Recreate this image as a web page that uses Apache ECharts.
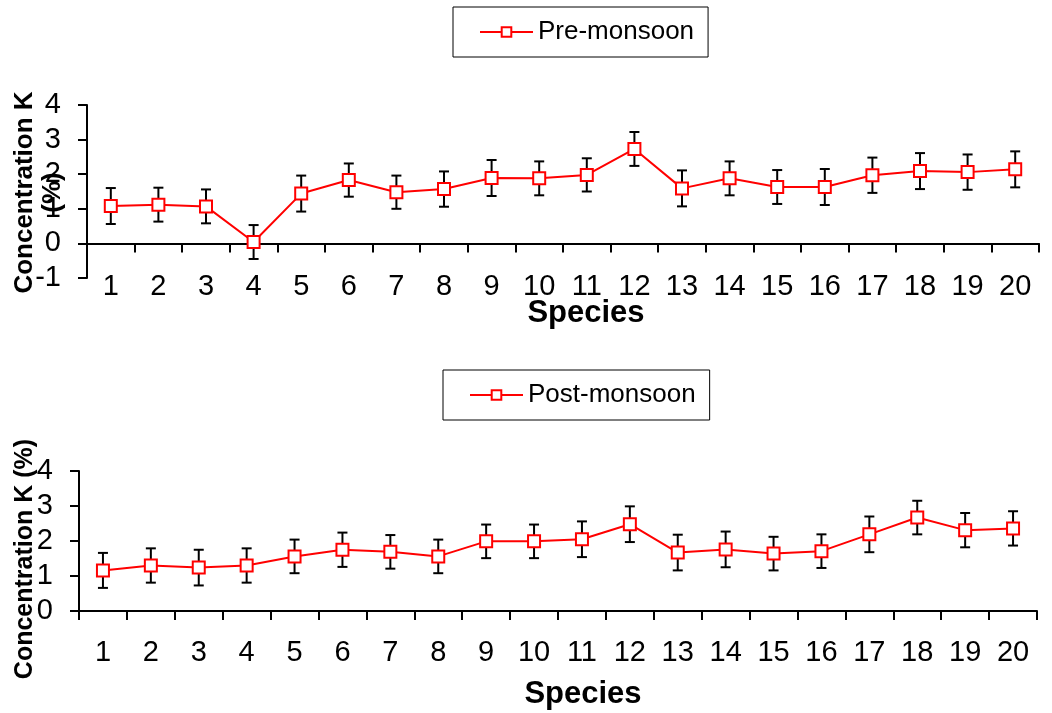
<!DOCTYPE html>
<html>
<head>
<meta charset="utf-8">
<script src="https://cdn.jsdelivr.net/npm/echarts@6/dist/echarts.min.js"></script>
<style>
    html, body { margin: 0; padding: 0; background: #fff; }
    #main { width: 1052px; height: 713px; }
</style>
</head>
<body>
<div id="main"></div>
<script>
var species = ['1','2','3','4','5','6','7','8','9','10','11','12','13','14','15','16','17','18','19','20'];

// Pre-monsoon: mean K (%) and error half-width
var preVals = [1.08, 1.12, 1.07, 0.04, 1.44, 1.83, 1.48, 1.57, 1.89, 1.88, 1.98, 2.73, 1.59, 1.88, 1.63, 1.63, 1.97, 2.09, 2.06, 2.14];
var preErr  = [0.52, 0.49, 0.49, 0.49, 0.52, 0.48, 0.48, 0.51, 0.52, 0.49, 0.48, 0.49, 0.52, 0.49, 0.49, 0.52, 0.51, 0.52, 0.51, 0.52];

// Post-monsoon
var postVals = [1.16, 1.30, 1.24, 1.30, 1.56, 1.75, 1.69, 1.56, 1.99, 1.99, 2.05, 2.48, 1.67, 1.76, 1.64, 1.71, 2.19, 2.67, 2.31, 2.36];
var postErr  = [0.50, 0.49, 0.51, 0.49, 0.48, 0.49, 0.48, 0.48, 0.48, 0.48, 0.51, 0.51, 0.51, 0.51, 0.48, 0.48, 0.51, 0.48, 0.49, 0.49];

var FONT = 'Liberation Sans';

/* error bar data: [index, low, high] */
function errData(vals, errs)
{
    var out = [];
    for (var i = 0; i < vals.length; i++) {
        out.push([i, vals[i] - errs[i], vals[i] + errs[i]]);
    }
    return out;
}

function renderErr(params, api)
{
    var x = api.value(0);
    var top = api.coord([x, api.value(2)]);
    var bot = api.coord([x, api.value(1)]);
    var w = 5;
    var st = { stroke: '#000', lineWidth: 2 };
    return {
        type: 'group',
        children: [
            { type: 'line', shape: { x1: top[0], y1: top[1], x2: bot[0], y2: bot[1] }, style: st },
            { type: 'line', shape: { x1: top[0] - w, y1: top[1], x2: top[0] + w, y2: top[1] }, style: st },
            { type: 'line', shape: { x1: bot[0] - w, y1: bot[1], x2: bot[0] + w, y2: bot[1] }, style: st }
        ]
    };
}

function xAxisOpt(gridIdx, gap, margin, pad)
{
    return {
        type: 'category',
        gridIndex: gridIdx,
        data: species,
        boundaryGap: true,
        name: 'Species',
        nameLocation: 'middle',
        nameGap: gap,
        nameMoveOverlap: false,
        nameTextStyle: { fontFamily: FONT, fontSize: 31, fontWeight: 'bold', color: '#000', padding: pad },
        axisLine: { show: true, onZero: true, lineStyle: { color: '#000', width: 2 } },
        axisTick: { show: true, length: 9, alignWithLabel: false, lineStyle: { color: '#000', width: 2 } },
        axisLabel: { margin: margin, fontFamily: FONT, fontSize: 29, color: '#000', interval: 0 },
        splitLine: { show: false }
    };
}

function yAxisOpt(gridIdx, min, name, size, gap, pad)
{
    return {
        type: 'value',
        gridIndex: gridIdx,
        min: min,
        max: 4,
        interval: 1,
        name: name,
        nameLocation: 'middle',
        nameRotate: 90,
        nameGap: gap,
        nameMoveOverlap: false,
        nameTextStyle: { fontFamily: FONT, fontSize: size, fontWeight: 'bold', color: '#000', lineHeight: 28, padding: pad },
        axisLine: { show: true, lineStyle: { color: '#000', width: 2 } },
        axisTick: { show: true, length: 9, lineStyle: { color: '#000', width: 2 } },
        axisLabel: { margin: 26, fontFamily: FONT, fontSize: 29, color: '#000' },
        splitLine: { show: false }
    };
}

function legendOpt(name, left, top)
{
    return {
        data: [name],
        left: left,
        top: top,
        orient: 'horizontal',
        backgroundColor: '#fff',
        borderColor: '#000',
        borderWidth: 1,
        padding: [12, 14, 12, 26],
        itemWidth: 53,
        itemHeight: 12,
        textStyle: { fontFamily: FONT, fontSize: 26, color: '#000', lineHeight: 26 }
    };
}

function lineSeries(name, vals, idx)
{
    return {
        name: name,
        type: 'line',
        xAxisIndex: idx,
        yAxisIndex: idx,
        data: vals,
        symbol: 'emptyRect',
        symbolSize: 12,
        color: '#ff0000',
        lineStyle: { color: '#ff0000', width: 2 },
        itemStyle: { color: '#ff0000', borderColor: '#ff0000', borderWidth: 2 },
        z: 3
    };
}

var myChart = echarts.init(document.getElementById('main'));
myChart.setOption({
    backgroundColor: '#fff',
    animation: false,
    legend: [
        legendOpt('Pre-monsoon', 453, 7),
        legendOpt('Post-monsoon', 443, 370)
    ],
    grid: [
        { left: 87, top: 105, width: 952, height: 173, outerBoundsMode: 'none', containLabel: false },
        { left: 79, top: 471, width: 958, height: 140, outerBoundsMode: 'none', containLabel: false }
    ],
    xAxis: [
        xAxisOpt(0, 20, -6, [0, 0, 0, 46]),
        xAxisOpt(1, 68, 27, [0, 0, 0, 50])
    ],
    yAxis: [
        yAxisOpt(0, -1, 'Concentration K\n(%)', 26, 20, [0, 2, 0, 0]),
        yAxisOpt(1, 0, 'Concentration K (%)', 25, 40, [0, 36, 0, 0])
    ],
    series: [
        {
            type: 'custom',
            xAxisIndex: 0,
            yAxisIndex: 0,
            renderItem: renderErr,
            encode: { x: 0, y: [1, 2] },
            data: errData(preVals, preErr),
            silent: true,
            z: 1
        },
        lineSeries('Pre-monsoon', preVals, 0),
        {
            type: 'custom',
            xAxisIndex: 1,
            yAxisIndex: 1,
            renderItem: renderErr,
            encode: { x: 0, y: [1, 2] },
            data: errData(postVals, postErr),
            silent: true,
            z: 1
        },
        lineSeries('Post-monsoon', postVals, 1)
    ]
});
</script>
</body>
</html>
